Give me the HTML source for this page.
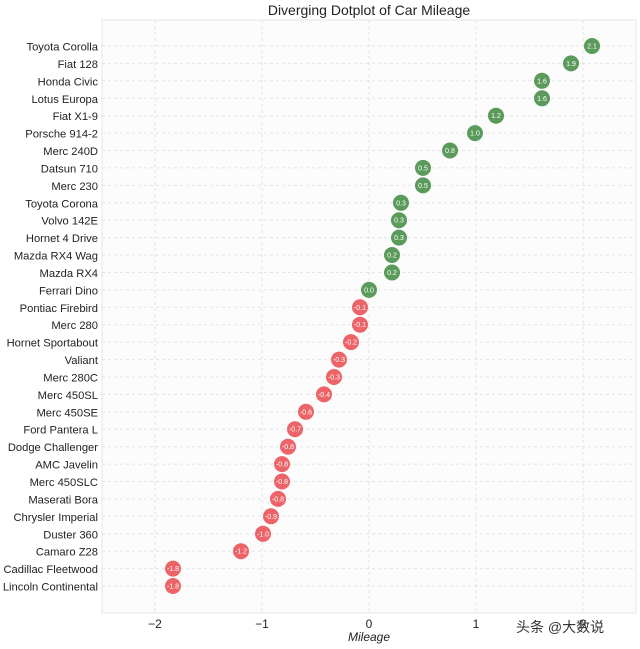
<!DOCTYPE html><html><head><style>body{margin:0;background:#fff}svg{display:block}
.n{font-size:11.2px;fill:#222;text-anchor:end}.v{font-size:7px;fill:#fff;text-anchor:middle}.g{fill:#5a9a5a}.r{fill:#ec6468}.l{stroke:#e4e4e4;stroke-dasharray:3,3}</style></head><body>
<svg width="640" height="649" xmlns="http://www.w3.org/2000/svg" font-family="Liberation Sans, DejaVu Sans, sans-serif">
<rect x="0" y="0" width="640" height="649" fill="#fff"/>
<rect x="102" y="20" width="534" height="593" fill="#fcfcfd" stroke="#e6e6e6"/>
<text x="369" y="15" text-anchor="middle" font-size="14" fill="#222">Diverging Dotplot of Car Mileage</text>
<g stroke="#e2e2e2" stroke-dasharray="3,3">
<line x1="155" y1="20" x2="155" y2="613"/><line x1="262" y1="20" x2="262" y2="613"/><line x1="369" y1="20" x2="369" y2="613"/><line x1="476" y1="20" x2="476" y2="613"/><line x1="583" y1="20" x2="583" y2="613"/>
</g>
<g font-size="12" fill="#222" text-anchor="middle">
<text x="155" y="628">−2</text><text x="262" y="628">−1</text><text x="369" y="628">0</text><text x="476" y="628">1</text><text x="583" y="628">2</text>
<text x="369" y="641" font-style="italic">Mileage</text>
</g>
<g transform="translate(0,46)"><line class="l" x1="102" x2="636"/><text class="n" x="98" y="4.5">Toyota Corolla</text><circle class="g" cx="592" r="8"/><text class="v" x="592" y="2.5">2.1</text></g>
<g transform="translate(0,63.4)"><line class="l" x1="102" x2="636"/><text class="n" x="98" y="4.5">Fiat 128</text><circle class="g" cx="571" r="8"/><text class="v" x="571" y="2.5">1.9</text></g>
<g transform="translate(0,80.8)"><line class="l" x1="102" x2="636"/><text class="n" x="98" y="4.5">Honda Civic</text><circle class="g" cx="542" r="8"/><text class="v" x="542" y="2.5">1.6</text></g>
<g transform="translate(0,98.3)"><line class="l" x1="102" x2="636"/><text class="n" x="98" y="4.5">Lotus Europa</text><circle class="g" cx="542" r="8"/><text class="v" x="542" y="2.5">1.6</text></g>
<g transform="translate(0,115.7)"><line class="l" x1="102" x2="636"/><text class="n" x="98" y="4.5">Fiat X1-9</text><circle class="g" cx="496" r="8"/><text class="v" x="496" y="2.5">1.2</text></g>
<g transform="translate(0,133.1)"><line class="l" x1="102" x2="636"/><text class="n" x="98" y="4.5">Porsche 914-2</text><circle class="g" cx="475" r="8"/><text class="v" x="475" y="2.5">1.0</text></g>
<g transform="translate(0,150.5)"><line class="l" x1="102" x2="636"/><text class="n" x="98" y="4.5">Merc 240D</text><circle class="g" cx="450" r="8"/><text class="v" x="450" y="2.5">0.8</text></g>
<g transform="translate(0,167.9)"><line class="l" x1="102" x2="636"/><text class="n" x="98" y="4.5">Datsun 710</text><circle class="g" cx="423" r="8"/><text class="v" x="423" y="2.5">0.5</text></g>
<g transform="translate(0,185.4)"><line class="l" x1="102" x2="636"/><text class="n" x="98" y="4.5">Merc 230</text><circle class="g" cx="423" r="8"/><text class="v" x="423" y="2.5">0.5</text></g>
<g transform="translate(0,202.8)"><line class="l" x1="102" x2="636"/><text class="n" x="98" y="4.5">Toyota Corona</text><circle class="g" cx="401" r="8"/><text class="v" x="401" y="2.5">0.3</text></g>
<g transform="translate(0,220.2)"><line class="l" x1="102" x2="636"/><text class="n" x="98" y="4.5">Volvo 142E</text><circle class="g" cx="399" r="8"/><text class="v" x="399" y="2.5">0.3</text></g>
<g transform="translate(0,237.6)"><line class="l" x1="102" x2="636"/><text class="n" x="98" y="4.5">Hornet 4 Drive</text><circle class="g" cx="399" r="8"/><text class="v" x="399" y="2.5">0.3</text></g>
<g transform="translate(0,255.0)"><line class="l" x1="102" x2="636"/><text class="n" x="98" y="4.5">Mazda RX4 Wag</text><circle class="g" cx="392" r="8"/><text class="v" x="392" y="2.5">0.2</text></g>
<g transform="translate(0,272.5)"><line class="l" x1="102" x2="636"/><text class="n" x="98" y="4.5">Mazda RX4</text><circle class="g" cx="392" r="8"/><text class="v" x="392" y="2.5">0.2</text></g>
<g transform="translate(0,289.9)"><line class="l" x1="102" x2="636"/><text class="n" x="98" y="4.5">Ferrari Dino</text><circle class="g" cx="369" r="8"/><text class="v" x="369" y="2.5">0.0</text></g>
<g transform="translate(0,307.3)"><line class="l" x1="102" x2="636"/><text class="n" x="98" y="4.5">Pontiac Firebird</text><circle class="r" cx="360" r="8"/><text class="v" x="360" y="2.5">-0.1</text></g>
<g transform="translate(0,324.7)"><line class="l" x1="102" x2="636"/><text class="n" x="98" y="4.5">Merc 280</text><circle class="r" cx="360" r="8"/><text class="v" x="360" y="2.5">-0.1</text></g>
<g transform="translate(0,342.1)"><line class="l" x1="102" x2="636"/><text class="n" x="98" y="4.5">Hornet Sportabout</text><circle class="r" cx="351" r="8"/><text class="v" x="351" y="2.5">-0.2</text></g>
<g transform="translate(0,359.6)"><line class="l" x1="102" x2="636"/><text class="n" x="98" y="4.5">Valiant</text><circle class="r" cx="339" r="8"/><text class="v" x="339" y="2.5">-0.3</text></g>
<g transform="translate(0,377.0)"><line class="l" x1="102" x2="636"/><text class="n" x="98" y="4.5">Merc 280C</text><circle class="r" cx="334" r="8"/><text class="v" x="334" y="2.5">-0.3</text></g>
<g transform="translate(0,394.4)"><line class="l" x1="102" x2="636"/><text class="n" x="98" y="4.5">Merc 450SL</text><circle class="r" cx="324" r="8"/><text class="v" x="324" y="2.5">-0.4</text></g>
<g transform="translate(0,411.8)"><line class="l" x1="102" x2="636"/><text class="n" x="98" y="4.5">Merc 450SE</text><circle class="r" cx="306" r="8"/><text class="v" x="306" y="2.5">-0.6</text></g>
<g transform="translate(0,429.2)"><line class="l" x1="102" x2="636"/><text class="n" x="98" y="4.5">Ford Pantera L</text><circle class="r" cx="295" r="8"/><text class="v" x="295" y="2.5">-0.7</text></g>
<g transform="translate(0,446.7)"><line class="l" x1="102" x2="636"/><text class="n" x="98" y="4.5">Dodge Challenger</text><circle class="r" cx="288" r="8"/><text class="v" x="288" y="2.5">-0.8</text></g>
<g transform="translate(0,464.1)"><line class="l" x1="102" x2="636"/><text class="n" x="98" y="4.5">AMC Javelin</text><circle class="r" cx="282" r="8"/><text class="v" x="282" y="2.5">-0.8</text></g>
<g transform="translate(0,481.5)"><line class="l" x1="102" x2="636"/><text class="n" x="98" y="4.5">Merc 450SLC</text><circle class="r" cx="282" r="8"/><text class="v" x="282" y="2.5">-0.8</text></g>
<g transform="translate(0,498.9)"><line class="l" x1="102" x2="636"/><text class="n" x="98" y="4.5">Maserati Bora</text><circle class="r" cx="278" r="8"/><text class="v" x="278" y="2.5">-0.8</text></g>
<g transform="translate(0,516.3)"><line class="l" x1="102" x2="636"/><text class="n" x="98" y="4.5">Chrysler Imperial</text><circle class="r" cx="271" r="8"/><text class="v" x="271" y="2.5">-0.9</text></g>
<g transform="translate(0,533.8)"><line class="l" x1="102" x2="636"/><text class="n" x="98" y="4.5">Duster 360</text><circle class="r" cx="263" r="8"/><text class="v" x="263" y="2.5">-1.0</text></g>
<g transform="translate(0,551.2)"><line class="l" x1="102" x2="636"/><text class="n" x="98" y="4.5">Camaro Z28</text><circle class="r" cx="241" r="8"/><text class="v" x="241" y="2.5">-1.2</text></g>
<g transform="translate(0,568.6)"><line class="l" x1="102" x2="636"/><text class="n" x="98" y="4.5">Cadillac Fleetwood</text><circle class="r" cx="173" r="8"/><text class="v" x="173" y="2.5">-1.8</text></g>
<g transform="translate(0,586.0)"><line class="l" x1="102" x2="636"/><text class="n" x="98" y="4.5">Lincoln Continental</text><circle class="r" cx="173" r="8"/><text class="v" x="173" y="2.5">-1.8</text></g>
<text x="516" y="632" font-size="14" fill="#333" font-family="Liberation Sans, Noto Sans CJK SC, sans-serif">头条 @大数说</text>
</svg></body></html>
